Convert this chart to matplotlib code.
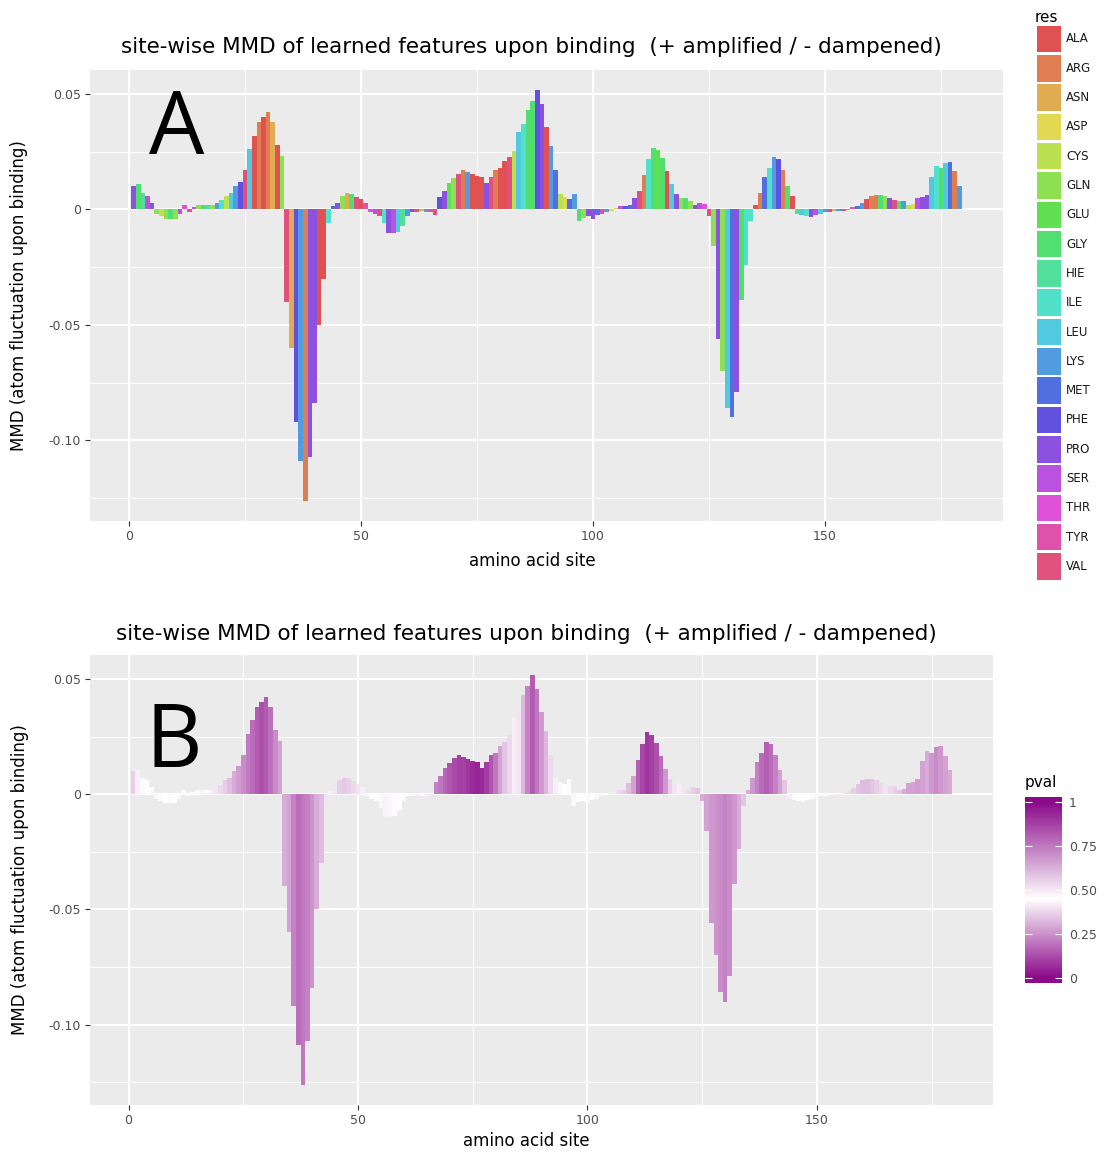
import matplotlib
matplotlib.use('Agg')
import matplotlib.pyplot as plt
import numpy as np
import colorsys
from matplotlib.colors import LinearSegmentedColormap, Normalize
from matplotlib.patches import Rectangle

plt.rcParams['font.family'] = ['DejaVu Sans']
plt.rcParams['axes.unicode_minus'] = False

# ---- data -------------------------------------------------------------
sites = np.arange(1, 180)

mmd = [
    0.010, 0.011, 0.007, 0.006, 0.003, -0.002, -0.003, -0.004, -0.004, -0.004,
    -0.002, 0.002, -0.001, 0.001, 0.002, 0.002, 0.002, 0.002, 0.003, 0.004,
    0.006, 0.007, 0.010, 0.012, 0.017, 0.026, 0.032, 0.038, 0.040, 0.042,
    0.038, 0.028, 0.023, -0.040, -0.060, -0.092, -0.109, -0.126, -0.107, -0.084,
    -0.050, -0.030, -0.006, 0.0015, 0.003, 0.006, 0.007, 0.0068, 0.0056, 0.0046,
    0.003, -0.001, -0.002, -0.003, -0.006, -0.010, -0.010, -0.0096, -0.007, -0.003,
    -0.001, -0.001, -0.0005, -0.001, -0.001, -0.0025, 0.0054, 0.008, 0.0115, 0.0135,
    0.0155, 0.017, 0.016, 0.0152, 0.0143, 0.014, 0.0114, 0.014, 0.0169, 0.018,
    0.021, 0.0226, 0.0255, 0.0335, 0.037, 0.043, 0.047, 0.0515, 0.0455, 0.0355,
    0.0276, 0.0172, 0.0069, 0.0053, 0.0046, 0.0065, -0.005, -0.0036, -0.003, -0.004,
    -0.0026, -0.002, -0.001, -0.0005, 0.0005, 0.0013, 0.0017, 0.002, 0.005, 0.0079,
    0.015, 0.0217, 0.0268, 0.0256, 0.0222, 0.0167, 0.011, 0.0065, 0.005, 0.005,
    0.0036, 0.002, 0.003, 0.0025, -0.003, -0.016, -0.056, -0.070, -0.086, -0.090,
    -0.079, -0.039, -0.024, -0.005, 0.002, 0.007, 0.0139, 0.0179, 0.0225, 0.0217,
    0.017, 0.0103, 0.006, -0.002, -0.0026, -0.003, -0.0033, -0.0026, -0.002, -0.0013,
    -0.001, -0.0008, -0.0005, -0.0005, -0.0003, 0.001, 0.0015, 0.0027, 0.0046, 0.006,
    0.0064, 0.0064, 0.006, 0.005, 0.0041, 0.0036, 0.0036, 0.002, 0.0024, 0.005,
    0.0053, 0.0064, 0.0142, 0.0189, 0.0179, 0.0203, 0.0207, 0.0167, 0.0103,
]

res = [
    'PRO', 'GLY', 'HIE', 'SER', 'PRO', 'GLN', 'CYS', 'GLN', 'GLY', 'GLN',
    'SER', 'THR', 'TYR', 'SER', 'GLN', 'GLY', 'HIE', 'GLN', 'LYS', 'ILE',
    'CYS', 'LEU', 'LYS', 'PHE', 'VAL', 'LEU', 'ALA', 'ARG', 'ALA', 'ARG',
    'ASN', 'ALA', 'GLN', 'VAL', 'ASN', 'PHE', 'LYS', 'ARG', 'PRO', 'PRO',
    'ALA', 'ALA', 'ILE', 'MET', 'PRO', 'GLN', 'ASN', 'GLY', 'VAL', 'ALA',
    'TYR', 'THR', 'SER', 'VAL', 'ILE', 'PRO', 'SER', 'LEU', 'HIE', 'LYS',
    'PRO', 'VAL', 'ASN', 'LYS', 'TYR', 'VAL', 'PHE', 'PRO', 'GLU', 'GLN',
    'VAL', 'ARG', 'LYS', 'ALA', 'ALA', 'ALA', 'PRO', 'VAL', 'ARG', 'ALA',
    'ALA', 'VAL', 'CYS', 'LEU', 'ILE', 'GLY', 'GLY', 'PHE', 'PRO', 'ALA',
    'LYS', 'MET', 'CYS', 'ASP', 'MET', 'LYS', 'GLY', 'GLN', 'PRO', 'PRO',
    'MET', 'TYR', 'LYS', 'ASP', 'CYS', 'SER', 'PHE', 'MET', 'PRO', 'VAL',
    'ARG', 'ILE', 'GLY', 'GLU', 'GLY', 'ALA', 'LEU', 'PRO', 'GLN', 'GLY',
    'GLN', 'PRO', 'SER', 'THR', 'VAL', 'GLN', 'PRO', 'GLN', 'LEU', 'MET',
    'PRO', 'GLY', 'ILE', 'ILE', 'ALA', 'ARG', 'MET', 'ILE', 'LYS', 'PHE',
    'ARG', 'GLY', 'ALA', 'HIE', 'LEU', 'ILE', 'PRO', 'SER', 'LEU', 'LYS',
    'VAL', 'ASN', 'LYS', 'VAL', 'ASN', 'TYR', 'MET', 'LYS', 'ALA', 'ARG',
    'ARG', 'GLY', 'GLN', 'PRO', 'VAL', 'GLY', 'LYS', 'CYS', 'ASP', 'SER',
    'PRO', 'PRO', 'LEU', 'ILE', 'GLY', 'LEU', 'MET', 'ARG', 'LYS',
]

pval = [
    0.36, 0.42, 0.44, 0.45, 0.46, 0.47, 0.46, 0.45, 0.44, 0.45,
    0.43, 0.44, 0.45, 0.46, 0.44, 0.43, 0.44, 0.42, 0.40, 0.38,
    0.36, 0.33, 0.30, 0.27, 0.24, 0.21, 0.18, 0.15, 0.13, 0.15,
    0.19, 0.24, 0.28, 0.30, 0.28, 0.22, 0.18, 0.20, 0.22, 0.25,
    0.30, 0.33, 0.40, 0.42, 0.40, 0.36, 0.35, 0.36, 0.38, 0.40,
    0.42, 0.44, 0.45, 0.46, 0.47, 0.48, 0.47, 0.46, 0.45, 0.44,
    0.45, 0.44, 0.43, 0.44, 0.42, 0.40, 0.22, 0.20, 0.17, 0.14,
    0.12, 0.10, 0.10, 0.08, 0.06, 0.05, 0.06, 0.09, 0.14, 0.20,
    0.28, 0.34, 0.38, 0.42, 0.40, 0.32, 0.22, 0.15, 0.20, 0.26,
    0.32, 0.38, 0.42, 0.44, 0.45, 0.46, 0.47, 0.46, 0.45, 0.44,
    0.45, 0.44, 0.43, 0.44, 0.42, 0.40, 0.38, 0.36, 0.33, 0.28,
    0.16, 0.11, 0.08, 0.10, 0.13, 0.18, 0.26, 0.36, 0.40, 0.42,
    0.40, 0.38, 0.36, 0.34, 0.30, 0.28, 0.26, 0.25, 0.24, 0.22,
    0.24, 0.26, 0.30, 0.34, 0.30, 0.26, 0.22, 0.18, 0.16, 0.18,
    0.22, 0.28, 0.34, 0.42, 0.44, 0.45, 0.46, 0.45, 0.44, 0.43,
    0.44, 0.45, 0.44, 0.43, 0.42, 0.40, 0.38, 0.36, 0.34, 0.33,
    0.33, 0.34, 0.36, 0.38, 0.40, 0.38, 0.36, 0.34, 0.30, 0.28,
    0.28, 0.27, 0.28, 0.30, 0.26, 0.24, 0.26, 0.28, 0.30,
]

res_levels = ['ALA', 'ARG', 'ASN', 'ASP', 'CYS', 'GLN', 'GLU', 'GLY', 'HIE', 'ILE',
              'LEU', 'LYS', 'MET', 'PHE', 'PRO', 'SER', 'THR', 'TYR', 'VAL']

x_ticks = [0, 50, 100, 150]
y_ticks = [0.05, 0, -0.05, -0.10]
y_tick_labels = ['0.05', '0', '-0.05', '-0.10']
pval_ticks = [0, 0.25, 0.5, 0.75, 1]
pval_tick_labels = ['0', '0.25', '0.50', '0.75', '1']

TITLE = 'site-wise MMD of learned features upon binding  (+ amplified / - dampened)'
W, H = 1104, 1153


def rainbow(n, s=0.64, v=0.88):
    # evenly spaced hues round the colour wheel, softened
    return [colorsys.hsv_to_rgb(i / n, s, v) for i in range(n)]


def style_panel(ax):
    ax.set_facecolor('#EBEBEB')
    for sp in ax.spines.values():
        sp.set_visible(False)
    ax.set_axisbelow(True)
    ax.set_xticks(x_ticks)
    ax.set_xticks([25, 75, 125, 175], minor=True)
    ax.set_yticks(y_ticks)
    ax.set_yticklabels(y_tick_labels)
    ax.set_yticks([0.025, -0.025, -0.075, -0.125], minor=True)
    ax.grid(which='major', color='white', linewidth=1.4)
    ax.grid(which='minor', color='white', linewidth=0.7)
    ax.tick_params(which='major', length=3.5, width=0.8, color='#333333',
                   labelcolor='#4D4D4D', labelsize=9, pad=3)
    ax.tick_params(which='minor', length=0)
    ax.set_xlim(-8.4, 188.4)
    lo, hi = min(mmd), max(mmd)
    pad = 0.05 * (hi - lo)
    ax.set_ylim(lo - pad, hi + pad)
    ax.set_ylabel('MMD (atom fluctuation upon binding)', fontsize=12)
    ax.yaxis.set_label_coords(-0.068, 0.5)
    ax.set_xlabel('amino acid site', fontsize=12)


fig = plt.figure(figsize=(W / 100, H / 100), dpi=100)

# panel A: bars coloured by residue type
palette = dict(zip(res_levels, rainbow(len(res_levels))))
axA = fig.add_axes([90 / W, 1 - 521 / H, 913 / W, 451 / H])
style_panel(axA)
axA.bar(sites, mmd, width=1.0, color=[palette[r] for r in res], linewidth=0)
axA.xaxis.set_label_coords(0.484, -0.068)
axA.text(4.3, 0.0239, 'A', fontsize=63, family='Open Sans', ha='left', va='baseline')
fig.text(531 / W, 1 - 47 / H, TITLE, fontsize=15.5, ha='center', va='center')

# panel B: same bars coloured by p-value
cmap = LinearSegmentedColormap.from_list(
    'pv', [(0, '#8B0A8B'), (0.45, '#FFFFFF'), (1, '#8B0A8B')])
norm = Normalize(0, 1)
axB = fig.add_axes([90 / W, 1 - 1105 / H, 903 / W, 450 / H])
style_panel(axB)
axB.bar(sites, mmd, width=1.0, color=cmap(norm(pval)), linewidth=0)
axB.xaxis.set_label_coords(0.483, -0.060)
axB.text(3.7, 0.0116, 'B', fontsize=63, family='Open Sans', ha='left', va='baseline')
fig.text(526 / W, 1 - 634 / H, TITLE, fontsize=15.5, ha='center', va='center')

# residue legend
leg = fig.add_axes([0, 0, 1, 1])
leg.set_xlim(0, W)
leg.set_ylim(H, 0)
leg.axis('off')
leg.text(1035, 17, 'res', fontsize=11, ha='left', va='center')
for i, name in enumerate(res_levels):
    yc = 39 + i * 29.3
    leg.add_patch(Rectangle((1037, yc - 13.3), 24, 26.6, facecolor=palette[name],
                            edgecolor='none'))
    leg.text(1066, yc, name, fontsize=8.5, ha='left', va='center', color='#1A1A1A')

# p-value colour bar
lim_lo, lim_hi = -0.028, 1.028
cax = fig.add_axes([1025 / W, 1 - 983 / H, 37 / W, 186 / H])
grad = np.linspace(lim_lo, lim_hi, 300).reshape(-1, 1)
cax.imshow(grad, cmap=cmap, norm=norm, aspect='auto', origin='lower',
           extent=[0, 1, lim_lo, lim_hi])
cax.set_xlim(0, 1)
cax.set_ylim(lim_lo, lim_hi)
cax.set_xticks([])
cax.yaxis.tick_right()
cax.set_yticks(pval_ticks)
cax.set_yticklabels(pval_tick_labels)
cax.tick_params(length=0, labelsize=9, labelcolor='#4D4D4D', pad=5)
for sp in cax.spines.values():
    sp.set_visible(False)
cax.hlines(pval_ticks, 0, 0.2, color='white', linewidth=0.8)
cax.hlines(pval_ticks, 0.8, 1, color='white', linewidth=0.8)
fig.text(1025 / W, 1 - 783 / H, 'pval', fontsize=11, ha='left', va='center')

fig.savefig('out.png', dpi=100)
